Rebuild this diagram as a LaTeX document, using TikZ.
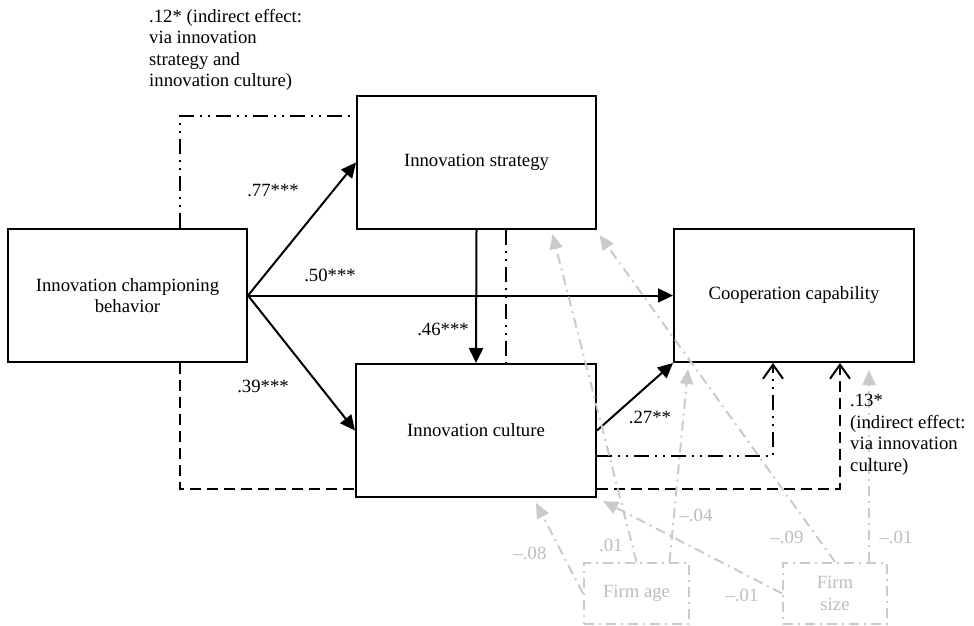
\documentclass[tikz,border=0pt]{standalone}
\usepackage{fontspec}
\setmainfont{Liberation Serif}
\usetikzlibrary{arrows.meta,calc}
\definecolor{lg}{RGB}{202,202,202}
\definecolor{lgt}{RGB}{188,188,188}
\tikzset{
  box/.style={draw=black, line width=2pt, minimum width=239pt, minimum height=133pt, align=center, inner sep=0pt},
  ctrlbox/.style={draw=lg, line width=2pt, dash pattern=on 10pt off 5pt on 2pt off 5pt, minimum width=104pt, minimum height=61pt, align=center, inner sep=0pt, text=lgt},
  conn/.style={line width=2pt, -{Triangle[length=15pt,width=14pt]}},
  ddot/.style={line width=2pt, dash pattern=on 15pt off 6pt on 2pt off 6pt on 2pt off 6pt},
  dsh/.style={line width=2pt, dash pattern=on 11pt off 6pt},
  openarr/.style={-{Straight Barb[length=14pt,width=20pt]}},
  ctrl/.style={draw=lg, line width=2pt, dash pattern=on 10pt off 5pt on 2pt off 5pt, -{Triangle[length=15pt,width=13pt]}},
  lab/.style={inner sep=0pt},
  glab/.style={inner sep=0pt, text=lgt},
}
\begin{document}
\begin{tikzpicture}[x=1pt, y=-1pt, font=\fontsize{18.7}{21.5}\selectfont]
\useasboundingbox (0,0) rectangle (974,626);

% main boxes
\node[box] (icb) at (127.5,295.5) {Innovation championing\\behavior};
\node[box] (strat) at (476.5,162.5) {Innovation strategy};
\node[box, minimum width=240pt] (cult) at (476,430.5) {Innovation culture};
\node[box, minimum width=240pt] (cc) at (794,295.5) {Cooperation capability};

% control boxes
\node[ctrlbox, minimum width=105pt] (age) at (636.5,593.5) {Firm age};
\node[ctrlbox] (size) at (835,593.5) {Firm\\size};

% direct effects
\draw[conn] (icb.east) -- (strat.west);
\draw[conn] (icb.east) -- (cc.west);
\draw[conn] (icb.east) -- (cult.west);
\draw[conn] (strat.south) -- (cult.north);
\draw[conn] (cult.east) -- (cc.south west);

% indirect effect (dash-dot)
\coordinate (p1) at (180,116);
\draw[ddot] (p1 |- icb.north) -- (p1) -- (p1 -| strat.west);
\coordinate (q1) at (506,300);
\draw[ddot] (q1 |- strat.south) -- (q1 |- cult.north);
\coordinate (r1) at (773,456);
\draw[ddot, openarr] (r1 -| cult.east) -- (r1) -- (r1 |- cc.south);

% indirect effect (dashed)
\coordinate (s1) at (180,489);
\draw[dsh] (s1 |- icb.south) -- (s1) -- (s1 -| cult.west);
\coordinate (t1) at (840,489);
\draw[dsh, openarr] (t1 -| cult.east) -- (t1) -- (t1 |- cc.south);

% control effects
\draw[ctrl] (age.west) -- ($(cult.south)+(60,5)$);
\draw[ctrl] (age.north) -- ($(strat.south)+(76,4)$);
\draw[ctrl] ($(age.north)+(33,0)$) -- ($(cc.south)+(-106,6)$);
\draw[ctrl] (size.north) -- ($(strat.south)+(123,5)$);
\draw[ctrl] (size.west) -- ($(cult.south east)+(6,3)$);
\draw[ctrl] ($(size.north)+(34,0)$) -- ($(cc.south)+(75,7)$);

% labels
\node[lab] (l77) at (273,191) {.77***};
\node[lab] (l50) at (330,275) {.50***};
\node[lab] (l39) at (263,386) {.39***};
\node[lab] (l46) at (443,329) {.46***};
\node[lab] (l27) at (650,417) {.27**};
\node[lab, anchor=north west, align=left] (ind1) at (149,9) {.12* (indirect effect:\\via innovation\\strategy and\\innovation culture)};
\node[lab, anchor=north west, align=left] (ind2) at (850,394) {.13*\\(indirect effect:\\via innovation\\culture)};

\node[glab] (g1) at (530,553) {–.08};
\node[glab] (g2) at (611,545) {.01};
\node[glab] (g3) at (696,515) {–.04};
\node[glab] (g4) at (742,595) {–.01};
\node[glab] (g5) at (787,537) {–.09};
\node[glab] (g6) at (896,537) {–.01};
\end{tikzpicture}
\end{document}
